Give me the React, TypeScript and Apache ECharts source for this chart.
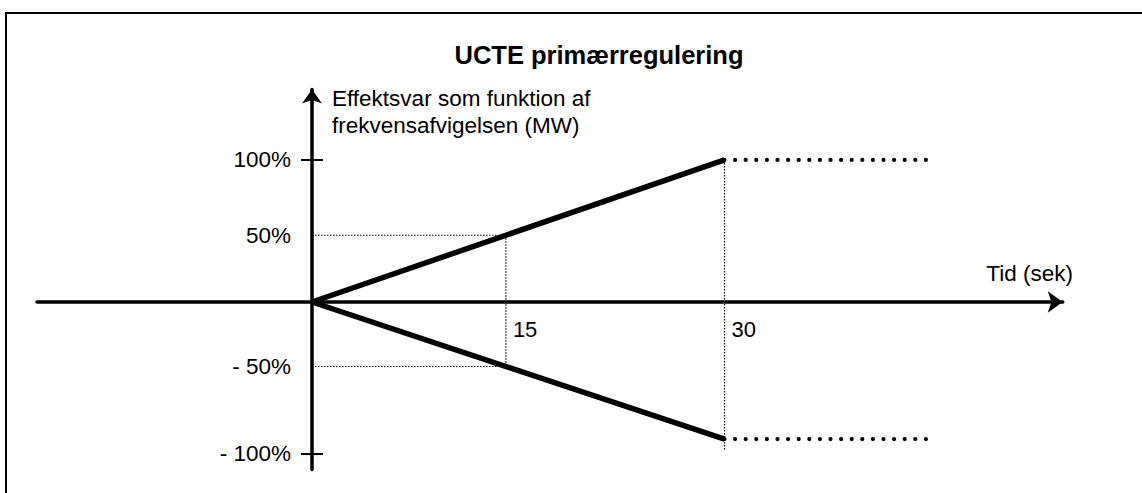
import React, { useEffect, useRef } from 'react';
import * as echarts from 'echarts';

// Ramp of primary regulation (time in s, effect in %)
const upperRamp = [[0, 0], [30, 100]];
const lowerRamp = [[0, 0], [30, -96.5]];
const upperHold = [[30, 100], [44.7, 100]];
const lowerHold = [[30, -96.5], [44.7, -96.5]];
// Thin dotted guide lines
const guideV15 = [[14.1, 47], [14.1, -45.4]];
const guideV30 = [[30, 100], [30, -104]];
const guideH50 = [[0, 47], [14.1, 47]];
const guideHm50 = [[0, -45.4], [14.1, -45.4]];
// Tick labels
const yLabelValues = [100, 47, -45.4, -107];
const yLabelTexts = ['100%', '50%', '- 50%', '- 100%'];
const yTickValues = [100, -107];
const xLabelValues = [14.1, 30];
const xLabelTexts = ['15', '30'];

const FONT = "'Liberation Sans', Arial, Helvetica, sans-serif";

// axis ranges
const X_MIN = -20;
const X_MAX = 54.6;
const Y_MIN = -118;
const Y_MAX = 149.6;

function pick(values: number[], texts: string[], v: number): string {
  for (let i = 0; i < values.length; i++) {
    if (Math.abs(values[i] - v) < 0.01) return texts[i];
  }
  return '';
}

export default function App() {
  const ref = useRef<HTMLDivElement>(null);
  useEffect(() => {
    document.body.style.margin = '0';
    if (!ref.current) return;
    const chart = echarts.init(ref.current, null, { renderer: 'svg' });

    const gridLeft = 37;
    const gridRight = 79.25;
    const gridTop = 89.5;
    const gridBottom = 23.4;
    const plotW = 1142 - gridLeft - gridRight;
    const plotH = 493 - gridTop - gridBottom;
    // place the axes through the origin by offsetting them from the grid edges
    const yOffset = -((0 - X_MIN) / (X_MAX - X_MIN)) * plotW;
    const xOffset = -((0 - Y_MIN) / (Y_MAX - Y_MIN)) * plotH;

    const thick = { color: '#000', width: 5.5, cap: 'butt' as const };
    const dots = { color: '#000', width: 4.2, type: [0, 10.6], cap: 'round' as const };
    const guide = { color: '#000', width: 1.2, type: [1.5, 1.5] };
    const mk = (data: number[][], lineStyle: any, z: number) => ({
      type: 'line',
      data,
      showSymbol: false,
      symbol: 'none',
      lineStyle,
      z,
      silent: true,
    });
    chart.setOption({
      animation: false,
      backgroundColor: '#fff',
      title: {
        text: 'UCTE primærregulering',
        left: 599,
        top: 41.5,
        textAlign: 'center',
        padding: 0,
        textStyle: { fontSize: 25.5, fontWeight: 'bold', color: '#000', fontFamily: FONT },
      },
      grid: {
        left: gridLeft,
        right: gridRight,
        top: gridTop,
        bottom: gridBottom,
        outerBoundsMode: 'none',
        containLabel: false,
      },
      xAxis: {
        type: 'value',
        min: X_MIN,
        max: X_MAX,
        position: 'bottom',
        offset: xOffset,
        splitLine: { show: false },
        axisTick: { show: false },
        axisLine: {
          onZero: false,
          symbol: ['none', 'arrow'],
          symbolSize: [16, 15],
          lineStyle: { color: '#000', width: 3.5 },
        },
        axisLabel: {
          customValues: xLabelValues,
          formatter: (v: number) => pick(xLabelValues, xLabelTexts, v),
          align: 'left',
          padding: [0, 0, 0, 7],
          margin: 17,
          fontSize: 22,
          color: '#000',
          fontFamily: FONT,
        },
      },
      yAxis: [
        {
          type: 'value',
          min: Y_MIN,
          max: Y_MAX,
          position: 'left',
          offset: yOffset,
          splitLine: { show: false },
          axisLine: {
            onZero: false,
            symbol: ['none', 'arrow'],
            symbolSize: [15, 14],
            lineStyle: { color: '#000', width: 3.5 },
          },
          axisTick: {
            show: true,
            customValues: yTickValues,
            length: 11,
            lineStyle: { color: '#000', width: 2 },
          },
          axisLabel: {
            customValues: yLabelValues,
            formatter: (v: number) => pick(yLabelValues, yLabelTexts, v),
            margin: 21,
            padding: [0, 0, 6, 0],
            fontSize: 22.5,
            color: '#000',
            fontFamily: FONT,
          },
        },
        {
          type: 'value',
          min: Y_MIN,
          max: Y_MAX,
          position: 'left',
          offset: yOffset,
          splitLine: { show: false },
          axisLine: { show: false, onZero: false },
          axisTick: {
            show: true,
            inside: true,
            customValues: yTickValues,
            length: 11,
            lineStyle: { color: '#000', width: 2 },
          },
          axisLabel: { show: false },
        },
      ],
      graphic: [
        {
          type: 'rect',
          shape: { x: 6, y: 13, width: 1300, height: 700 },
          style: { fill: 'none', stroke: '#000', lineWidth: 2 },
          silent: true,
        },
        {
          type: 'text',
          x: 332,
          y: 84.5,
          style: {
            text: 'Effektsvar som funktion af\nfrekvensafvigelsen (MW)',
            font: `22.5px ${FONT}`,
            lineHeight: 27,
            fill: '#000',
            textAlign: 'left',
            textVerticalAlign: 'top',
          },
          silent: true,
        },
        {
          type: 'text',
          x: 1073,
          y: 273,
          style: {
            text: 'Tid (sek)',
            font: `22.5px ${FONT}`,
            fill: '#000',
            textAlign: 'right',
            textVerticalAlign: 'middle',
          },
          silent: true,
        },
      ],
      series: [
        mk(guideV15, guide, 1),
        mk(guideV30, guide, 1),
        mk(guideH50, guide, 1),
        mk(guideHm50, guide, 1),
        mk(upperHold, dots, 2),
        mk(lowerHold, dots, 2),
        mk(upperRamp, thick, 3),
        mk(lowerRamp, thick, 3),
      ],
    });
    return () => chart.dispose();
  }, []);
  return <div ref={ref} style={{ width: 1142, height: 493 }} />;
}
